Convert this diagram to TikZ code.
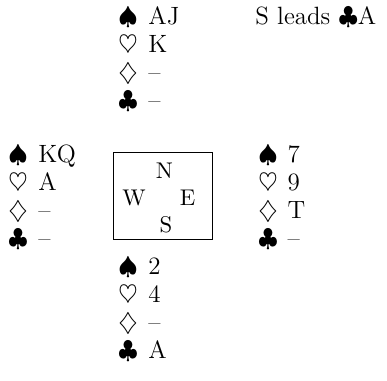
\documentclass[tikz,border=0pt]{standalone}

\begin{document}
\begin{tikzpicture}[x=0.44pt,y=-0.44pt,
    every node/.style={inner sep=0pt, font=\fontsize{11}{13}\selectfont},
    card/.style={anchor=base west},
    seat/.style={anchor=base, font=\fontsize{10}{12}\selectfont}]
    \useasboundingbox (0,0) rectangle (387,380);

    % North hand
    \foreach \s/\c [count=\i] in {\spadesuit/AJ, \heartsuit/K, \diamondsuit/--, \clubsuit/--} {
        \node[card] (north\i) at (118, {24+28*(\i-1)}) {\makebox[13.2pt][l]{$\s$}\c};
    }
    \node[card] (lead) at (255,24) {S leads $\clubsuit$A};

    % West and East hands
    \foreach \s/\c [count=\i] in {\spadesuit/KQ, \heartsuit/A, \diamondsuit/--, \clubsuit/--} {
        \node[card] (west\i) at (8, {162+28*(\i-1)}) {\makebox[13.2pt][l]{$\s$}\c};
    }
    \foreach \s/\c [count=\i] in {\spadesuit/7, \heartsuit/9, \diamondsuit/T, \clubsuit/--} {
        \node[card] (east\i) at (258, {162+28*(\i-1)}) {\makebox[12.8pt][l]{$\s$}\c};
    }

    % South hand
    \foreach \s/\c [count=\i] in {\spadesuit/2, \heartsuit/4, \diamondsuit/--, \clubsuit/A} {
        \node[card] (south\i) at (118, {274+28*(\i-1)}) {\makebox[13.2pt][l]{$\s$}\c};
    }

    % Table
    \node[draw, line width=0.8pt, minimum width=43.6pt, minimum height=38.3pt] (table) at (163,196) {};
    \node[seat] (n) at (164.5,178) {N};
    \node[seat] (w) at (134,205) {W};
    \node[seat] (e) at (187.5,205) {E};
    \node[seat] (s) at (166,232) {S};
\end{tikzpicture}
\end{document}
